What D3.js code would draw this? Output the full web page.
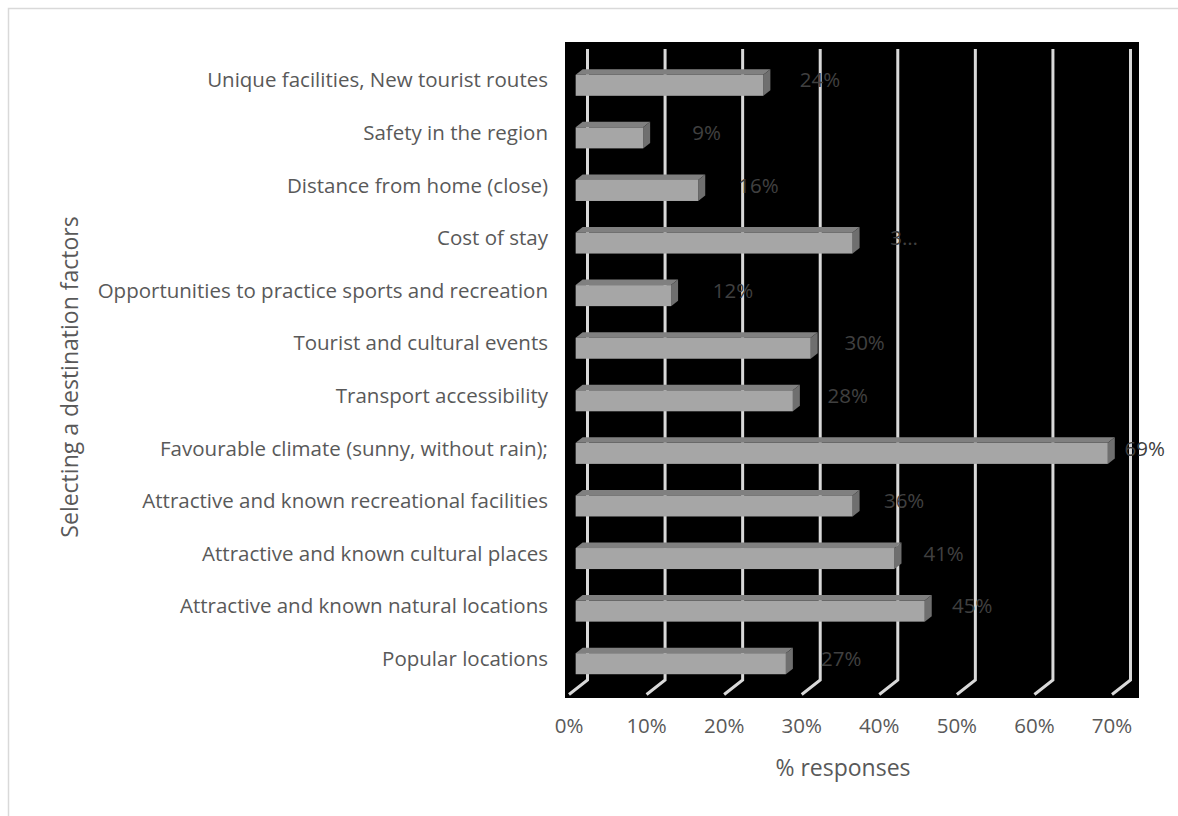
<!DOCTYPE html>
<html>
<head>
<meta charset="utf-8">
<script src="https://cdn.jsdelivr.net/npm/d3@7"></script>
<style>
  body { margin: 0; background: #fff; }
  text { font-family: "Open Sans", "Noto Sans", sans-serif; }
</style>
</head>
<body>
<svg id="chart" width="1178" height="816"></svg>
<script>
// factors, top to bottom as drawn
const categories = [
    "Unique facilities, New tourist routes",
    "Safety in the region",
    "Distance from home (close)",
    "Cost of stay",
    "Opportunities to practice sports and recreation",
    "Tourist and cultural events",
    "Transport accessibility",
    "Favourable climate (sunny, without rain);",
    "Attractive and known recreational facilities",
    "Attractive and known cultural places",
    "Attractive and known natural locations",
    "Popular locations"
];
const values = [0.242, 0.087, 0.158, 0.357, 0.123, 0.303, 0.28, 0.686, 0.357, 0.411, 0.45, 0.271];
const valueLabels = ["24%", "9%", "16%", "3\u2026", "12%", "30%", "28%", "69%", "36%", "41%", "45%", "27%"];
const xTicks = [0, 0.1, 0.2, 0.3, 0.4, 0.5, 0.6, 0.7];

const svg = d3.select("#chart");

// outer chart border
svg.append("rect")
    .attr("x", 8.5).attr("y", 8.5)
    .attr("width", 1200).attr("height", 830)
    .attr("fill", "none")
    .attr("stroke", "#d9d9d9")
    .attr("stroke-width", 1.5);

// black plot area
svg.append("rect")
    .attr("x", 565).attr("y", 42)
    .attr("width", 574).attr("height", 656)
    .attr("fill", "#000");

// front edge of the floor
var x = d3.scaleLinear().domain([0, 0.7]).range([569, 1112]);
var y = d3.scaleBand().domain(categories).range([59, 690])
    .paddingInner(0.6).paddingOuter(0.3);

var back = {dx: 18.5, dy: -14.5};   // full depth of the 3d box
var floorY = 694.5, wallTop = 49;
var barFront = 0.36, barDepth = {dx: 7, dy: -5.5};

// gridlines: up the back wall, then slanting forward over the floor
svg.append("g").selectAll("path")
    .data(xTicks)
    .enter().append("path")
    .attr("d", d => "M" + (x(d) + back.dx) + "," + wallTop +
        "L" + (x(d) + back.dx) + "," + (floorY + back.dy) +
        "L" + x(d) + "," + floorY)
    .attr("fill", "none")
    .attr("stroke", "#d9d9d9")
    .attr("stroke-width", 3);

// bars
var bars = svg.append("g").selectAll("g")
    .data(categories)
    .enter().append("g");

var x0 = d => x(0) + back.dx * barFront;
var x1 = (d, i) => x(values[i]) + back.dx * barFront;

bars.append("path")   // top face
    .attr("d", (d, i) => {
        var t = y(d);
        return "M" + x0() + "," + t + "L" + (x0() + barDepth.dx) + "," + (t + barDepth.dy) +
            "L" + (x1(d, i) + barDepth.dx) + "," + (t + barDepth.dy) + "L" + x1(d, i) + "," + t + "Z";
    })
    .attr("fill", "#808080");

bars.append("path")   // side face
    .attr("d", (d, i) => {
        var t = y(d), b = t + y.bandwidth(), r = x1(d, i);
        return "M" + r + "," + t + "L" + (r + barDepth.dx) + "," + (t + barDepth.dy) +
            "L" + (r + barDepth.dx) + "," + (b + barDepth.dy) + "L" + r + "," + b + "Z";
    })
    .attr("fill", "#6f6f6f");

bars.append("rect")   // front face
    .attr("x", x0)
    .attr("y", d => y(d))
    .attr("width", (d, i) => x1(d, i) - x0())
    .attr("height", y.bandwidth())
    .attr("fill", "#a6a6a6");

// value labels
var labelX = d3.scaleLinear().domain([0, 0.7]).range([x(0) + 74, x(0.7) + 43]);
svg.append("g").selectAll("text")
    .data(categories)
    .enter().append("text")
    .attr("x", (d, i) => labelX(values[i]))
    .attr("y", d => y(d) + y.bandwidth() / 2 - 5)
    .attr("dy", "0.35em")
    .attr("text-anchor", "middle")
    .attr("fill", "#404040")
    .attr("font-size", "20.5px")
    .text((d, i) => valueLabels[i]);

// category labels
svg.append("g").selectAll("text")
    .data(categories)
    .enter().append("text")
    .attr("x", 548)
    .attr("y", d => y(d) + y.bandwidth() / 2 - 5)
    .attr("dy", "0.35em")
    .attr("text-anchor", "end")
    .attr("fill", "#595959")
    .attr("font-size", "20.5px")
    .text(d => d);

// x tick labels
svg.append("g").selectAll("text")
    .data(xTicks)
    .enter().append("text")
    .attr("x", d => x(d))
    .attr("y", 726)
    .attr("dy", "0.35em")
    .attr("text-anchor", "middle")
    .attr("fill", "#595959")
    .attr("font-size", "20.5px")
    .text(d3.format(".0%"));

// axis titles
svg.append("text")
    .attr("x", 843).attr("y", 768)
    .attr("dy", "0.35em")
    .attr("text-anchor", "middle")
    .attr("fill", "#595959")
    .attr("font-size", "23px")
    .text("% responses");

svg.append("text")
    .attr("transform", "translate(70,377) rotate(-90)")
    .attr("dy", "0.35em")
    .attr("text-anchor", "middle")
    .attr("fill", "#595959")
    .attr("font-size", "23px")
    .text("Selecting a destination factors");
</script>
</body>
</html>
